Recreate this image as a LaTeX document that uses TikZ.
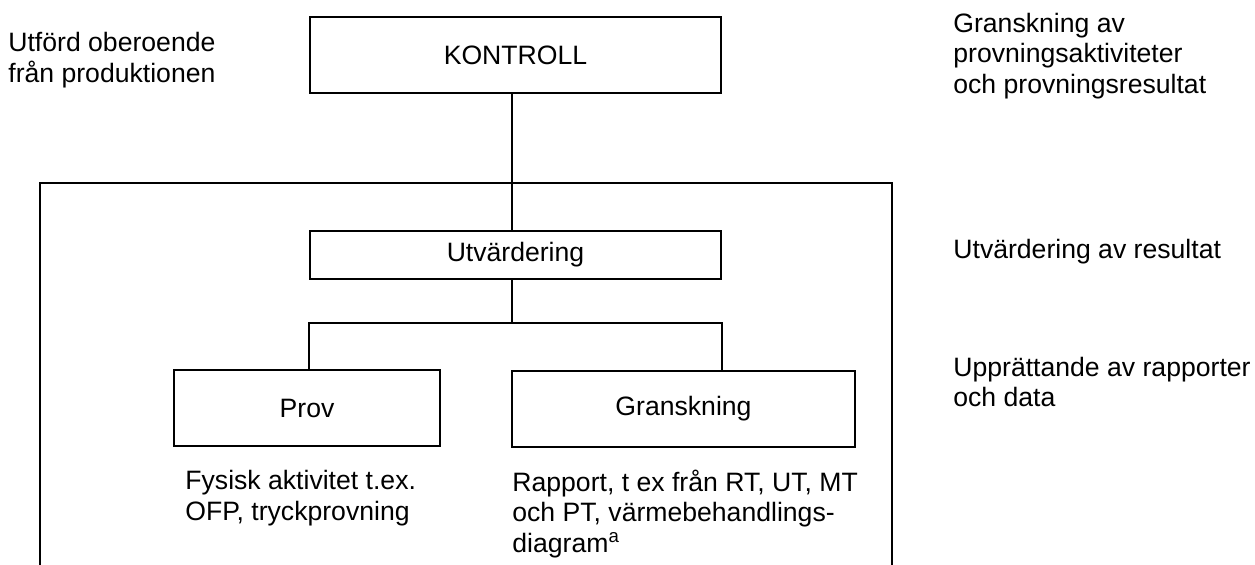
\documentclass[tikz,border=0pt]{standalone}
\usepackage{fontspec}
\setmainfont{Liberation Sans}
\begin{document}
\begin{tikzpicture}[x=0.5pt,y=-0.5pt,
  every node/.style={font=\fontsize{13.3}{15.3}\selectfont},
  box/.style={draw, line width=1.1pt, inner sep=0pt},
  conn/.style={line width=0.7pt},
  frameline/.style={line width=1pt},
  note/.style={inner sep=0pt, anchor=west, align=left}]
\useasboundingbox (0,0) rectangle (1255,565);
% boxes
\node[box, minimum width=205.5pt, minimum height=38pt] (kontroll) at (515.5,55) {KONTROLL};
\node[box, minimum width=205.5pt, minimum height=24pt] (utv) at (515.5,255) {Utvärdering};
\node[box, minimum width=133pt, minimum height=38pt] (prov) at (307,408) {Prov};
\node[box, minimum width=171.5pt, minimum height=38pt] (gransk) at (683.5,409) {Granskning};
% outer frame (open at the bottom)
\coordinate (fbl) at (40,565);
\coordinate (ftl) at (40,183);
\coordinate (ftr) at (892,183);
\coordinate (fbr) at (892,565);
\draw[frameline] (fbl) -- (ftl) -- (ftr) -- (fbr);
% connectors
\coordinate (j) at (512,323);
\draw[conn] (kontroll.south -| j) -- (utv.north -| j);
\draw[conn] (utv.south -| j) -- (j);
\draw[conn] (prov.north -| utv.west) -- (utv.west |- j) -- (utv.east |- j) -- (gransk.north -| utv.east);
% texts
\node[note] (tl) at (8,60) {Utförd oberoende\\från produktionen};
\node[note] (tr) at (953,56) {Granskning av\\provningsaktiviteter\\och provningsresultat};
\node[note] (tr2) at (953,252) {Utvärdering av resultat};
\node[note] (tr3) at (953,382) {Upprättande av rapporter\\och data};
\node[note] (pl) at (185,498) {Fysisk aktivitet t.ex.\\OFP, tryckprovning};
\node[note] (gl) at (512,514) {Rapport, t ex från RT, UT, MT\\och PT, värmebehandlings-\\diagram\textsuperscript{a}};
\end{tikzpicture}
\end{document}
